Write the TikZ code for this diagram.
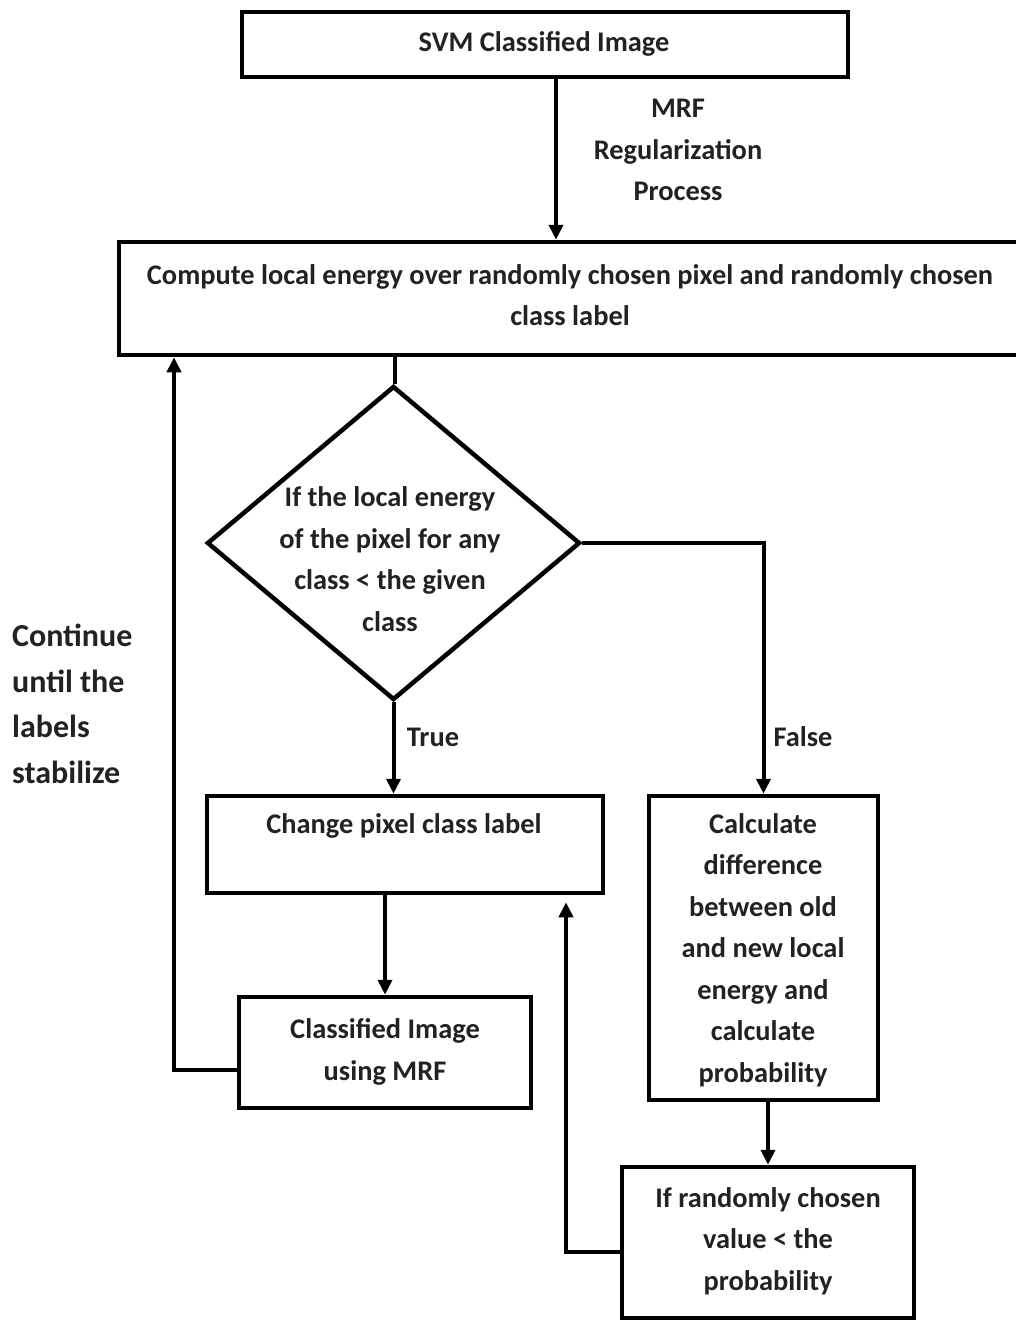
\documentclass[tikz,border=0pt]{standalone}
\usepackage{fontspec}
\setmainfont{Carlito}
\usetikzlibrary{arrows.meta,shapes.geometric,calc}
\definecolor{txt}{HTML}{222222}
\tikzset{
  box/.style={draw=black, line width=4.5pt, rectangle, inner sep=0pt},
  dia/.style={draw=black, line width=4.5pt, diamond, inner sep=0pt},
  lbl/.style={text=txt, font=\fontsize{28.4}{41.5}\selectfont\bfseries, align=center, inner sep=0pt},
  lbll/.style={text=txt, font=\fontsize{32}{45.5}\selectfont\bfseries, align=left, inner sep=0pt, anchor=west},
  conn/.style={draw=black, line width=4pt},
  arr/.style={conn, -{Triangle[width=14pt,length=15pt]}},
}
\begin{document}
\begin{tikzpicture}[x=1pt,y=-1pt]
\useasboundingbox[fill=white] (0,0) rectangle (1016,1320);
% boxes
\node[box, minimum width=606pt, minimum height=65pt] (svm) at (545,44.5) {};
\node[box, minimum width=906pt, minimum height=113pt] (compute) at (572,298.5) {};
\node[dia, minimum width=373pt, minimum height=314pt] (dec) at (393.5,543) {};
\node[box, minimum width=396pt, minimum height=97pt] (change) at (405,844.5) {};
\node[box, minimum width=292pt, minimum height=111pt] (clsimg) at (385,1052.5) {};
\node[box, minimum width=229pt, minimum height=304pt] (calc) at (763.5,948) {};
\node[box, minimum width=292pt, minimum height=151pt] (ifrand) at (768,1242.5) {};
% texts
\node[lbl] (tsvm) at (544,44) {SVM Classified Image};
\node[lbl] (tcompute) at (570,295) {Compute local energy over randomly chosen pixel and randomly chosen\\class label};
\node[lbl] (tdec) at (390,559) {If the local energy\\of the pixel for any\\class < the given\\class};
\node[lbl] (tchange) at (404,826) {Change pixel class label};
\node[lbl] (tclsimg) at (385,1052) {Classified Image\\using MRF};
\node[lbl] (tcalc) at (763,950) {Calculate\\difference\\between old\\and new local\\energy and\\calculate\\probability};
\node[lbl] (tifrand) at (768,1241) {If randomly chosen\\value < the\\probability};
\node[lbl] (tmrf) at (678,150) {MRF\\Regularization\\Process};
\node[lbll] (tcont) at (12,704) {Continue\\until the\\labels\\stabilize};
\node[lbl] (ttrue) at (433,737) {True};
\node[lbl] (tfalse) at (803,737) {False};
% connectors
\coordinate (a1) at (556,77);
\draw[arr] (a1) -- (a1 |- compute.north);
\coordinate (a2) at (395,355);
\draw[conn] (a2) -- (a2 |- dec.north);
\draw[arr] (dec.south) -- (dec.south |- change.north);
\draw[arr] (dec.east) -| (calc.north);
\draw[arr] (clsimg.north |- change.south) -- (clsimg.north);
\coordinate (l1) at (239,1070);
\coordinate (l2) at (174,1070);
\draw[arr] (l1) -- (l2) -- (l2 |- compute.south);
\draw[arr] (ifrand.north |- calc.south) -- (ifrand.north);
\coordinate (r1) at (622,1252);
\coordinate (r2) at (566,1252);
\draw[arr, shorten >=7pt] (r1) -- (r2) -- (r2 |- change.south);
\end{tikzpicture}
\end{document}
